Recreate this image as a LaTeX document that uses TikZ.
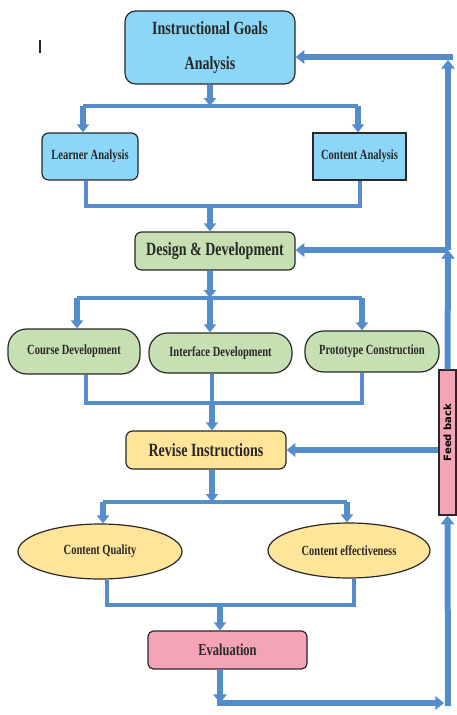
\documentclass[tikz,border=0pt]{standalone}
\usepackage{fontspec}
\usepackage{graphicx}
\usepackage{tikz}
\usetikzlibrary{positioning, calc, shapes.geometric, arrows.meta}
\newfontfamily\condfont[FakeStretch=0.75]{Liberation Serif}
\newfontfamily\fbfont{DejaVu Sans}
\definecolor{flowBlue}{RGB}{84,140,204}
\definecolor{skyFill}{RGB}{140,214,247}
\definecolor{sageFill}{RGB}{198,224,180}
\definecolor{butterFill}{RGB}{255,229,153}
\definecolor{roseFill}{RGB}{244,164,182}
\definecolor{inkGray}{RGB}{40,40,40}

\begin{document}
\begin{tikzpicture}[
      x=0.75pt, y=-0.75pt,
      box/.style={rectangle, draw=inkGray, line width=0.9pt, rounded corners=5pt, align=center,
        text=inkGray, inner sep=2pt, font=\condfont\bfseries\fontsize{10.5}{12}\selectfont},
      bigbox/.style={box, font=\condfont\bfseries\fontsize{14}{17}\selectfont,
        minimum width=120pt, minimum height=28.5pt},
      goalbox/.style={bigbox, fill=skyFill, rounded corners=8pt, minimum width=127.5pt, minimum height=54.75pt},
      skybox/.style={box, fill=skyFill, minimum height=35.25pt},
      pill/.style={box, fill=sageFill, rounded corners=14pt},
      oval/.style={ellipse, draw=inkGray, line width=0.9pt, fill=butterFill, text=inkGray, inner sep=0pt,
        font=\condfont\bfseries\fontsize{10.5}{12}\selectfont, minimum height=41.25pt},
      feedbox/.style={rectangle, draw=inkGray, line width=0.9pt, fill=roseFill, inner sep=0pt,
        minimum width=12.75pt, minimum height=108.75pt, font=\fbfont\bfseries\fontsize{7.5}{9}\selectfont},
      arr/.style={-{Triangle[width=9pt, length=6pt]}, line width=4pt, flowBlue},
      loop/.style={arr, line width=4.5pt, -{Triangle[width=10pt, length=6.5pt]}},
      bus/.style={line width=3pt, flowBlue},
      mergeline/.style={line width=2.8pt, flowBlue}
    ]
    \useasboundingbox (0,0) rectangle (457,715);

    \draw[inkGray, line width=0.8pt] (40,40) -- (40,53);

    \node[goalbox] (goals) at (210,47.5) {Instructional Goals\\[9pt]Analysis};
    \node[skybox, minimum width=72pt] (learner) at (90,156.5) {Learner Analysis};
    \node[skybox, sharp corners, minimum width=69.75pt] (content) at (359.5,156.5) {Content Analysis};
    \node[bigbox, fill=sageFill] (design) at (215,251) {Design \& Development};
    \node[pill, minimum width=99pt, minimum height=33.75pt] (course) at (74,351.5) {Course Development};
    \node[pill, minimum width=107.25pt, minimum height=30pt] (iface) at (220.5,353) {Interface Development};
    \node[pill, minimum width=100.5pt, minimum height=30.75pt] (proto) at (372,351.5) {Prototype Construction};
    \node[bigbox, fill=butterFill] (revise) at (206,450) {Revise Instructions};
    \node[oval, minimum width=123pt] (quality) at (100,551.5) {Content Quality};
    \node[oval, minimum width=121.5pt] (effect) at (349,550.5) {Content effectiveness};
    \node[bigbox, fill=roseFill, rounded corners=4pt, minimum width=119.25pt,
      font=\condfont\bfseries\fontsize{12.5}{15}\selectfont] (eval) at (227.5,650) {Evaluation};
    \node[feedbox] (feed) at (447.5,442.5) {\rotatebox{90}{\hspace{15pt}Feed back}};

    % goals -> learner / content
    \coordinate (splitA) at (210,106);
    \coordinate (splitAL) at (83,106);
    \coordinate (splitAR) at (358,106);
    \draw[arr] (goals) -- (splitA);
    \draw[bus] (splitAL) -- (splitAR);
    \draw[arr] (splitAL) -- (splitAL |- learner.north);
    \draw[arr] (splitAR) -- (splitAR |- content.north);

    % learner / content -> design
    \coordinate (mergeAL) at (86,206);
    \coordinate (mergeAR) at (360,206);
    \coordinate (mergeA) at (210,206);
    \draw[mergeline] (mergeAL |- learner.south) -- (mergeAL) -- (mergeAR) -- (mergeAR |- content.south);
    \draw[arr] (mergeA) -- (mergeA |- design.north);

    % design -> three branches
    \coordinate (splitB) at (210,298);
    \coordinate (splitBL) at (77,298);
    \coordinate (splitBR) at (362,298);
    \draw[arr] (splitB |- design.south) -- (splitB);
    \draw[bus] (splitBL) -- (splitBR);
    \draw[arr] (splitBL) -- (splitBL |- course.north);
    \draw[arr] (splitB) -- (splitB |- iface.north);
    \draw[arr] (splitBR) -- (splitBR |- proto.north);

    % branches -> revise
    \coordinate (mergeBL) at (86,403);
    \coordinate (mergeB) at (212,403);
    \coordinate (mergeBR) at (362,403);
    \draw[mergeline] (mergeBL |- course.south) -- (mergeBL) -- (mergeBR) -- (mergeBR |- proto.south);
    \draw[mergeline] (mergeB |- iface.south) -- (mergeB);
    \draw[arr] (mergeB) -- (mergeB |- revise.north);

    % revise -> quality / effectiveness
    \coordinate (splitC) at (212,502);
    \coordinate (splitCL) at (103,502);
    \coordinate (splitCR) at (347,502);
    \draw[arr] (splitC |- revise.south) -- (splitC);
    \draw[bus] (splitCL) -- (splitCR);
    \draw[arr] (splitCL) -- (splitCL |- quality.north);
    \draw[arr] (splitCR) -- (splitCR |- effect.north);

    % quality / effectiveness -> evaluation
    \coordinate (mergeCL) at (107,605);
    \coordinate (mergeC) at (220,605);
    \coordinate (mergeCR) at (354,605);
    \draw[bus] (mergeCL |- quality.south) -- (mergeCL) -- (mergeCR) -- (mergeCR |- effect.south);
    \draw[arr] (mergeC) -- (mergeC |- eval.north);

    % feedback loop
    \coordinate (loopA) at (220,703);
    \coordinate (loopB) at (444,703);
    \coordinate (loopC) at (448,706);
    \coordinate (loopD) at (448,250);
    \coordinate (loopE) at (448,60);
    \coordinate (loopF) at (453,57);
    \draw[loop] (loopA |- eval.south) -- (loopA);
    \draw[loop] ($(loopA)+(-3,0)$) -- (loopB);
    \draw[loop] (loopC) -- (feed.south);
    \draw[loop] (feed.north) -- (loopD);
    \draw[loop] (loopD) -- (loopE);
    \draw[loop] (loopF) -- (loopF -| goals.east);
    \draw[loop] (loopD) -- (loopD -| design.east);
    \draw[loop] (feed.west |- revise.east) -- (revise.east);
  \end{tikzpicture}
\end{document}
